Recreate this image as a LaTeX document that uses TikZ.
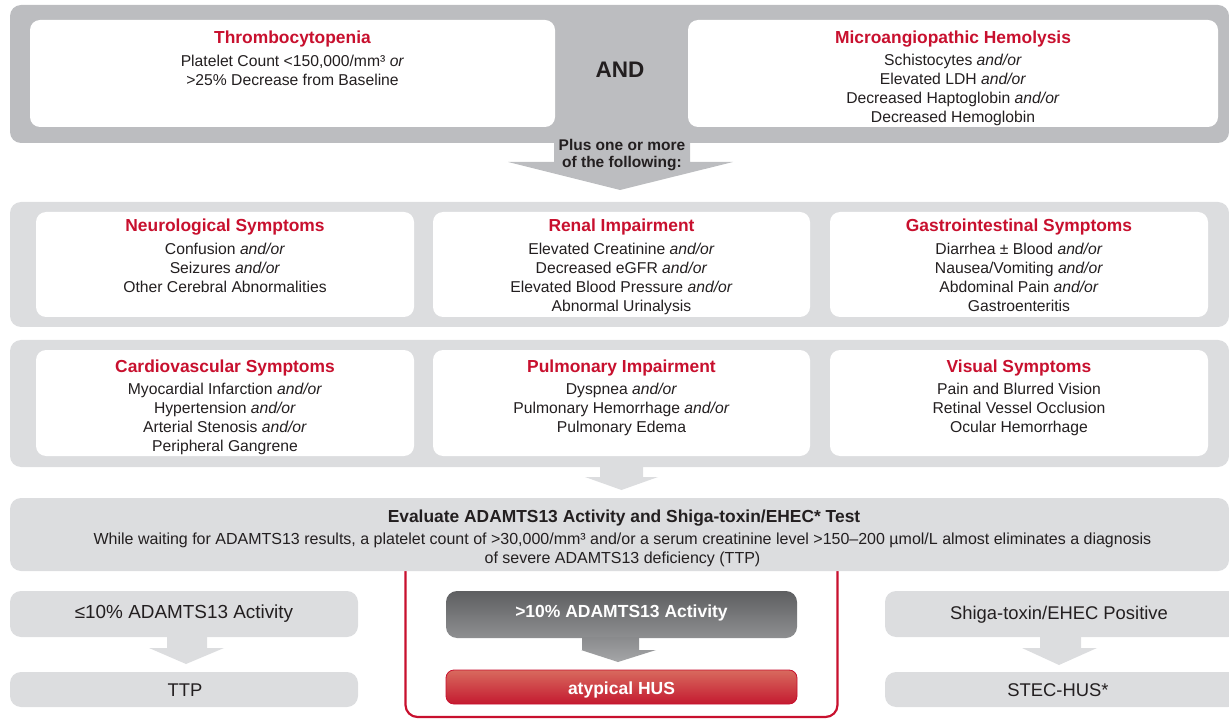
\documentclass[tikz,border=0pt]{standalone}
\usepackage{fontspec}
\setmainfont{Liberation Sans}
\usetikzlibrary{calc}
\definecolor{topgray}{HTML}{BCBDC0}
\definecolor{ltgray}{HTML}{DCDDDF}
\definecolor{tred}{HTML}{C8102E}
\definecolor{txt}{HTML}{231F20}
\definecolor{dkA}{HTML}{5E5F61}
\definecolor{dkB}{HTML}{8E8F91}
\definecolor{dkC}{HTML}{A5A6A8}
\definecolor{rdA}{HTML}{D86A5E}
\definecolor{rdB}{HTML}{C41A30}
\begin{document}
\begin{tikzpicture}[x=1pt,y=-1pt,
  bg/.style={inner sep=0,outer sep=0,rounded corners=11},
  wbox/.style={fill=white,inner sep=0,outer sep=0,rounded corners=10},
  ttl/.style={text=tred,font=\bfseries\fontsize{17.4}{21}\selectfont,inner sep=0,anchor=base},
  body/.style={text=txt,font=\fontsize{15.7}{19}\selectfont,align=center,inner sep=0,anchor=north},
  small/.style={text=txt,font=\fontsize{16}{19}\selectfont,align=center,inner sep=0,anchor=north},
  lbl/.style={text=txt,font=\fontsize{18.4}{22}\selectfont,inner sep=0,anchor=base},
  wlbl/.style={text=white,font=\bfseries\fontsize{17.5}{21}\selectfont,inner sep=0,anchor=base},
]
\useasboundingbox (0,0) rectangle (1229,719);

% ---------- top block ----------
\node[bg,fill=topgray,minimum width=1219,minimum height=138] (topbg) at (619.5,74) {};
\node[wbox,minimum width=525,minimum height=107] (thr) at (292.5,73.5) {};
\node[wbox,minimum width=530,minimum height=107] (mic) at (953,73.5) {};
\node[ttl] (thrT) at (292.5,44) {Thrombocytopenia};
\node[body] (thrB) at (292.5,55) {Platelet Count <150,000/mm³ \textit{or}\\>25\% Decrease from Baseline};
\node[ttl] (micT) at (953,44) {Microangiopathic Hemolysis};
\node[body] (micB) at (953,54) {Schistocytes \textit{and/or}\\Elevated LDH \textit{and/or}\\Decreased Haptoglobin \textit{and/or}\\Decreased Hemoglobin};
\node[text=txt,font=\bfseries\fontsize{22.5}{26}\selectfont,inner sep=0,anchor=base] (and) at (620,78) {AND};

% ---------- symptom rows ----------
\node[bg,fill=ltgray,minimum width=1219,minimum height=125] (row1) at (619.5,264.5) {};
\node[bg,fill=ltgray,minimum width=1219,minimum height=127] (row2) at (619.5,403.5) {};

% arrow top -> row1
\fill[topgray] ($(topbg.south)+(-65.5,-1)$) -- ($(topbg.south)+(-65.5,19)$) -- ($(topbg.south)+(-111.5,19)$)
  -- ($(row1.north)+(0.5,-12)$) -- ($(topbg.south)+(113.5,19)$) -- ($(topbg.south)+(70.5,19)$)
  -- ($(topbg.south)+(70.5,-1)$) -- cycle;
\node[text=txt,font=\bfseries\fontsize{15.5}{16.5}\selectfont,align=center,inner sep=0] (plus) at (622,155) {Plus one or more\\of the following:};

\node[wbox,minimum width=378,minimum height=105] (neu) at (225,264.5) {};
\node[wbox,minimum width=377,minimum height=105] (ren) at (621.5,264.5) {};
\node[wbox,minimum width=378,minimum height=105] (gas) at (1019,264.5) {};
\node[wbox,minimum width=378,minimum height=106] (car) at (225,403) {};
\node[wbox,minimum width=377,minimum height=106] (pul) at (621.5,403) {};
\node[wbox,minimum width=378,minimum height=106] (vis) at (1019,403) {};

\node[ttl] (neuT) at (225,232) {Neurological Symptoms};
\node[body] (neuB) at (225,243) {Confusion \textit{and/or}\\Seizures \textit{and/or}\\Other Cerebral Abnormalities};
\node[ttl] (renT) at (621.5,232) {Renal Impairment};
\node[body] (renB) at (621.5,243) {Elevated Creatinine \textit{and/or}\\Decreased eGFR \textit{and/or}\\Elevated Blood Pressure \textit{and/or}\\Abnormal Urinalysis};
\node[ttl] (gasT) at (1019,232) {Gastrointestinal Symptoms};
\node[body] (gasB) at (1019,243) {Diarrhea ± Blood \textit{and/or}\\Nausea/Vomiting \textit{and/or}\\Abdominal Pain \textit{and/or}\\Gastroenteritis};

\node[ttl] (carT) at (225,372) {Cardiovascular Symptoms};
\node[body] (carB) at (225,383) {Myocardial Infarction \textit{and/or}\\Hypertension \textit{and/or}\\Arterial Stenosis \textit{and/or}\\Peripheral Gangrene};
\node[ttl] (pulT) at (621.5,372) {Pulmonary Impairment};
\node[body] (pulB) at (621.5,383) {Dyspnea \textit{and/or}\\Pulmonary Hemorrhage \textit{and/or}\\Pulmonary Edema};
\node[ttl] (visT) at (1019,372) {Visual Symptoms};
\node[body] (visB) at (1019,383) {Pain and Blurred Vision\\Retinal Vessel Occlusion\\Ocular Hemorrhage};

% ---------- evaluate ----------
\node[inner sep=0,outer sep=0,draw=tred,line width=2.2,fill=white,rounded corners=12,minimum width=432,minimum height=176] (frame) at (621.5,629) {};
\node[bg,fill=ltgray,minimum width=1219,minimum height=73] (eval) at (619.5,534.5) {};
\fill[ltgray] ($(row2.south)+(-19.5,-1)$) -- ($(row2.south)+(-19.5,10)$) -- ($(row2.south)+(-34.5,10)$)
  -- ($(eval.north)+(2,-8)$) -- ($(row2.south)+(38.5,10)$) -- ($(row2.south)+(23.5,10)$)
  -- ($(row2.south)+(23.5,-1)$) -- cycle;
\node[text=txt,font=\bfseries\fontsize{17.4}{20}\selectfont,inner sep=0,anchor=base] (evT) at (624,522) {Evaluate ADAMTS13 Activity and Shiga-toxin/EHEC* Test};
\node[small] (evB) at (622.5,533) {While waiting for ADAMTS13 results, a platelet count of >30,000/mm³ and/or a serum creatinine level >150–200 µmol/L almost eliminates a diagnosis\\of severe ADAMTS13 deficiency (TTP)};

% ---------- outcomes ----------
\node[bg,fill=ltgray,minimum width=348,minimum height=46] (lo) at (184,614) {};
\node[bg,fill=ltgray,minimum width=348,minimum height=35] (ttp) at (184,689.5) {};
\node[lbl,font=\fontsize{18.9}{22}\selectfont] (loT) at (184,618) {≤10\% ADAMTS13 Activity};
\node[lbl] (ttpT) at (185,696) {TTP};
\fill[ltgray] ($(lo.south)+(-17,-1)$) -- ($(lo.south)+(-17,11)$) -- ($(lo.south)+(-35,11)$)
  -- ($(ttp.north)+(2,-8)$) -- ($(lo.south)+(40,11)$) -- ($(lo.south)+(23,11)$)
  -- ($(lo.south)+(23,-1)$) -- cycle;

\node[bg,top color=dkA,bottom color=dkB,minimum width=351,minimum height=47] (hi) at (621.5,614.5) {};
\node[wlbl] (hiT) at (621.5,617) {>10\% ADAMTS13 Activity};
\node[inner sep=0,outer sep=0,draw=tred,line width=0.8,top color=rdA,bottom color=rdB,rounded corners=8,minimum width=351,minimum height=34] (hus) at (621.5,687) {};
\node[wlbl] (husT) at (621.5,694) {atypical HUS};
\shade[top color=dkB!90!dkA,bottom color=dkC] ($(hi.south)+(-39.5,-1)$) -- ($(hi.south)+(-39.5,12)$) -- ($(hi.south)+(-40.5,12)$)
  -- ($(hus.north)+(-3.5,-8)$) -- ($(hi.south)+(34.5,12)$) -- ($(hi.south)+(17.5,12)$)
  -- ($(hi.south)+(17.5,-1)$) -- cycle;

\node[bg,fill=ltgray,minimum width=354,minimum height=46] (sh) at (1062,614) {};
\node[bg,fill=ltgray,minimum width=354,minimum height=35] (stec) at (1062,689.5) {};
\node[lbl] (shT) at (1059,619) {Shiga-toxin/EHEC Positive};
\node[lbl] (stecT) at (1058,696) {STEC-HUS*};
\fill[ltgray] ($(sh.south)+(-22,-1)$) -- ($(sh.south)+(-22,11)$) -- ($(sh.south)+(-40,11)$)
  -- ($(stec.north)+(-3,-7)$) -- ($(sh.south)+(35,11)$) -- ($(sh.south)+(19,11)$)
  -- ($(sh.south)+(19,-1)$) -- cycle;
\end{tikzpicture}
\end{document}
